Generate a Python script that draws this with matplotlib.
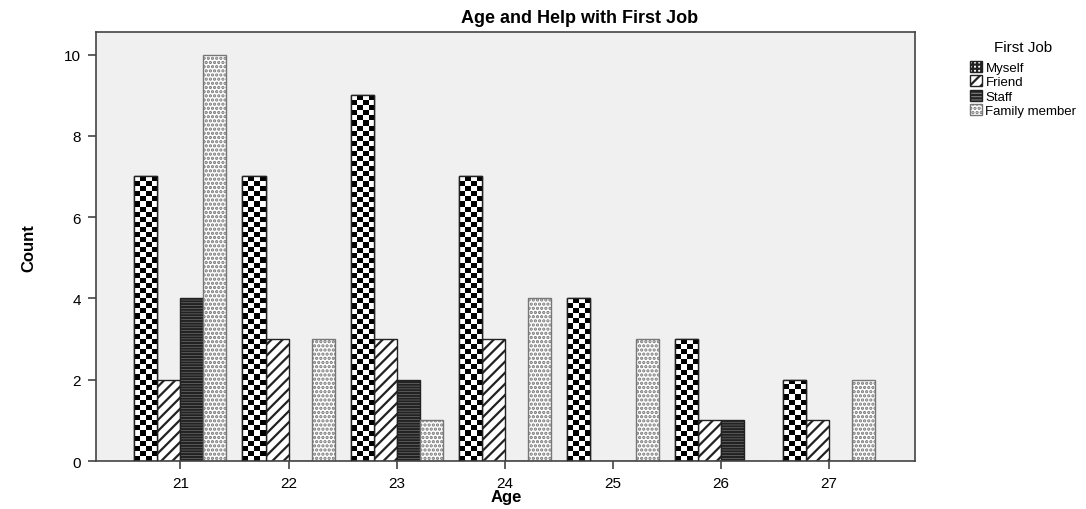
import numpy as np
import matplotlib
matplotlib.use('Agg')
import matplotlib.pyplot as plt
from matplotlib.patches import Patch

plt.rcParams['font.family'] = ['Liberation Sans', 'DejaVu Sans']
plt.rcParams['hatch.linewidth'] = 1.6

ages = [21, 22, 23, 24, 25, 26, 27]
groups = ['Myself', 'Friend', 'Staff', 'Family member']
myself = [7, 7, 9, 7, 4, 3, 2]
friend = [2, 3, 3, 3, 0, 1, 1]
staff = [4, 0, 2, 0, 0, 1, 0]
family = [10, 3, 1, 4, 3, 0, 2]

fig = plt.figure(figsize=(10.86, 5.10), dpi=100)
ax = fig.add_axes([0.0885, 0.094, 0.7545, 0.841])
ax.set_facecolor('#f0f0f0')

x = np.array(ages, dtype=float)
w = 0.213
styles = [
    dict(facecolor='white', hatch=None, edgecolor='#222222'),
    dict(facecolor='white', hatch='///', edgecolor='#222222'),
    dict(facecolor='#808080', hatch='------', edgecolor='#222222'),
    dict(facecolor='white', hatch='....', edgecolor='#777777'),
]
series = [myself, friend, staff, family]
containers = []
for i, (vals, st) in enumerate(zip(series, styles)):
    bars = ax.bar(x + (i - 1.5) * w, vals, w, linewidth=1.0, zorder=2, **st)
    containers.append(bars)

# checkerboard fill for "Myself"
for b in containers[0]:
    h = b.get_height()
    if h <= 0:
        continue
    x0 = b.get_x()
    bw = b.get_width()
    nrows = int(round(h / 0.125))
    board = (np.add.outer(np.arange(nrows), np.arange(4)) % 2).astype(float)
    im = ax.imshow(board, cmap='gray', vmin=0, vmax=1, aspect='auto',
                   extent=(x0, x0 + bw, 0, h), interpolation='nearest',
                   zorder=2.5, origin='lower')
    im.set_clip_path(b)
    ax.bar(x0 + bw / 2, h, bw, facecolor='none', edgecolor='#222222',
           linewidth=1.0, zorder=3)

ax.set_xlim(20.22, 27.8)
ax.set_ylim(0, 10.55)
ax.set_xticks(ages)
ax.set_yticks([0, 2, 4, 6, 8, 10])
ax.tick_params(axis='both', direction='out', length=6, width=1.2,
               color='#444444', labelsize=11, pad=5)
for s in ax.spines.values():
    s.set_color('#444444')
    s.set_linewidth(1.2)

ax.set_xlabel('Age', fontsize=12, fontweight='bold', labelpad=-1)
ax.set_ylabel('Count', fontsize=12, fontweight='bold', labelpad=20,
              fontstretch='condensed')
fig.text(0.534, 0.955, 'Age and Help with First Job', ha='center',
         fontsize=13, fontweight='bold')

handles = [
    Patch(facecolor='white', edgecolor='#222222', hatch='++++'),
    Patch(facecolor='white', edgecolor='#222222', hatch='///'),
    Patch(facecolor='#808080', edgecolor='#222222', hatch='-----'),
    Patch(facecolor='white', edgecolor='#777777', hatch='....'),
]
leg = fig.legend(handles, groups, title='First Job', loc='upper left',
                 bbox_to_anchor=(0.888, 0.93), frameon=False,
                 fontsize=9.5, title_fontsize=11, handlelength=0.9,
                 handleheight=0.9, handletextpad=0.3, labelspacing=0.1,
                 borderaxespad=0)
leg._legend_box.align = 'center'
leg._legend_box.sep = 5

fig.savefig('out.png', dpi=100, facecolor='white')
